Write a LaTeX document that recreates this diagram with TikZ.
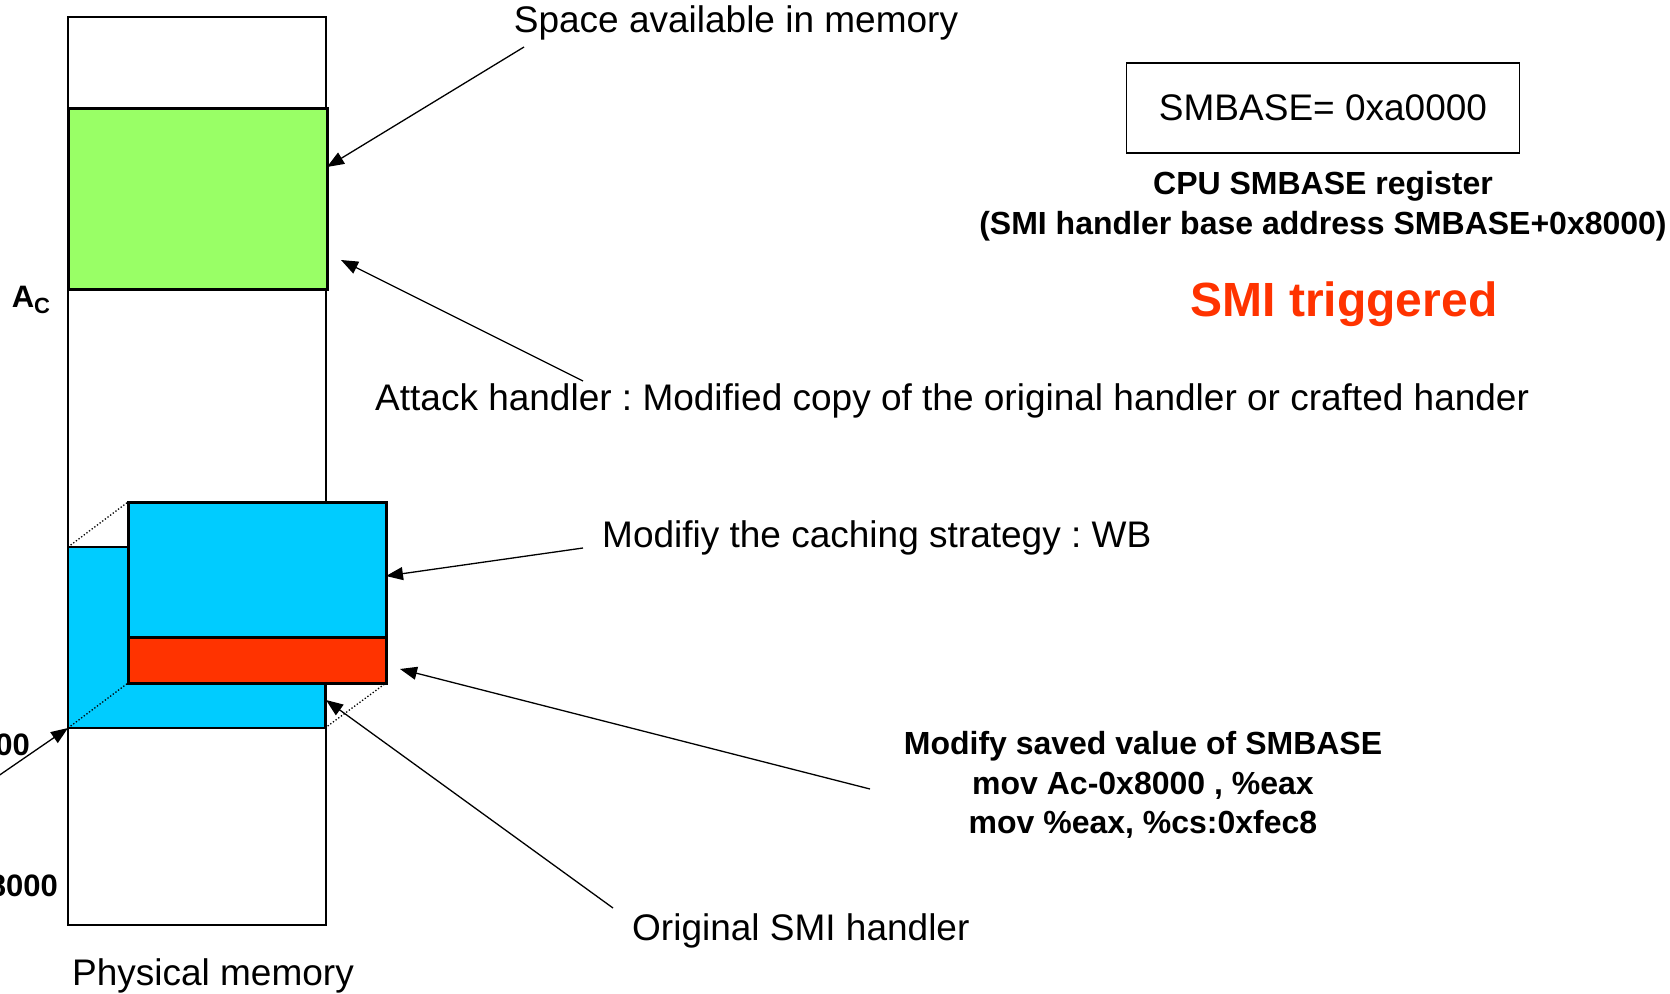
\documentclass[tikz,border=0pt]{standalone}
\usepackage{fontspec}
\setmainfont{Liberation Sans}
\usetikzlibrary{arrows.meta}
\definecolor{memgreen}{HTML}{99FF66}
\definecolor{memcyan}{HTML}{00CCFF}
\definecolor{memred}{HTML}{FF3300}
\frenchspacing
\begin{document}
\begin{tikzpicture}[x=1bp,y=-1bp,
  arr/.style={-{Triangle[length=17bp,width=13bp]}, line width=1.3bp},
  regtext/.style={inner sep=0pt, font=\fontsize{37bp}{42bp}\selectfont},
  boldtext/.style={inner sep=0pt, align=center, font=\fontsize{32bp}{39.5bp}\selectfont\bfseries},
  dots/.style={dotted, line width=1.3bp}]
\useasboundingbox (0,0) rectangle (1670,993);
% memory column
\draw[line width=1.5bp] (68,17) rectangle (326,925);
% green attack handler
\draw[line width=3bp, fill=memgreen] (68,108) rectangle (327,289);
% back cyan box
\draw[line width=2bp, fill=memcyan] (68,547) rectangle (325,728);
\draw[dots] (68,547) -- (128,502);
\draw[dots] (68,728) -- (128,683);
\draw[dots] (325,728) -- (386,683);
% front cyan box + red band
\draw[line width=3bp, fill=memcyan] (128,502) rectangle (386,637);
\draw[line width=3bp, fill=memred] (128,637) rectangle (386,683);

% named coordinates for arrow targets
\coordinate (tgreen) at (327,167);
\coordinate (tattack) at (341,260);
\coordinate (tfront) at (386,576);
\coordinate (tred) at (400,669);
\coordinate (torig) at (326,700);
\coordinate (tcorner) at (68,728);
\coordinate (sleft) at (-12,783);

% texts
\node[regtext] (space) at (736,23) {Space available in memory};
\node[regtext, anchor=west] (attack) at (375,401) {Attack handler : Modified copy of the original handler or crafted hander};
\node[regtext, anchor=west] (cache) at (602,538) {Modifiy the caching strategy : WB};
\node[regtext, anchor=west] (orig) at (632,931) {Original SMI handler};
\node[regtext] (phys) at (213,976) {Physical memory};
\node[draw, line width=1.5bp, minimum width=393bp, minimum height=90bp, inner sep=0pt,
      font=\fontsize{37bp}{42bp}\selectfont] (smbase) at (1323,108) {SMBASE= 0xa0000};
\node[boldtext] (cpu) at (1323,206) {CPU SMBASE register\\(SMI handler base address SMBASE+0x8000)};
\node[inner sep=0pt, text=memred, font=\fontsize{48bp}{50bp}\selectfont\bfseries] (smi) at (1344,304) {SMI triggered};
\node[boldtext] (modify) at (1143,785) {Modify saved value of SMBASE\\mov Ac-0x8000 , \%eax\\mov \%eax, \%cs:0xfec8};
\node[inner sep=0pt, font=\fontsize{31bp}{34bp}\selectfont\bfseries] (ac) at (31,300) {A\raisebox{-6bp}{\fontsize{22bp}{22bp}\selectfont C}};
\node[inner sep=0pt, anchor=east, font=\fontsize{31bp}{34bp}\selectfont\bfseries] (lab1) at (30,745) {0xa8000};
\node[inner sep=0pt, anchor=east, font=\fontsize{31bp}{34bp}\selectfont\bfseries] (lab2) at (58,886) {Ac-0x8000};

% arrows
\coordinate (sspace) at (524,47);
\coordinate (sattack) at (583,381);
\coordinate (scache) at (583,548);
\coordinate (smodify) at (870,789);
\coordinate (sorig) at (613,908);
\draw[arr] (sspace) -- (tgreen);
\draw[arr] (sattack) -- (tattack);
\draw[arr] (scache) -- (tfront);
\draw[arr] (smodify) -- (tred);
\draw[arr] (sorig) -- (torig);
\draw[arr] (sleft) -- (tcorner);
\end{tikzpicture}
\end{document}
